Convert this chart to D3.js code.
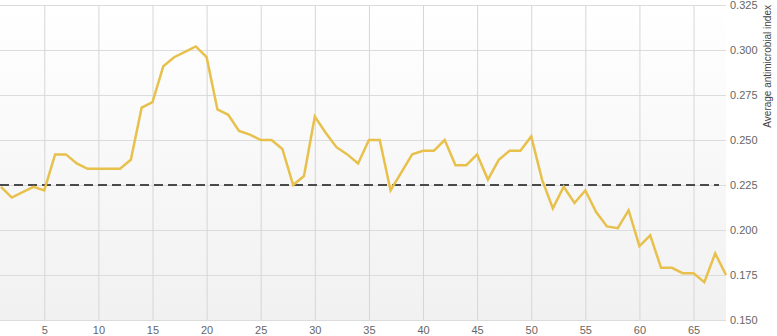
<!DOCTYPE html>
<html>
<head>
<meta charset="utf-8">
<script src="https://cdn.jsdelivr.net/npm/d3@7"></script>
<style>
  html, body { margin: 0; padding: 0; background: #fff; }
  svg { display: block; font-family: "Liberation Sans", Arial, sans-serif; }
</style>
</head>
<body>
<svg id="chart" width="777" height="336"></svg>
<script>
const xValues = d3.range(1, 69);
const indexValues = [
  0.224, 0.218, 0.221, 0.224, 0.222, 0.242, 0.242, 0.237, 0.234, 0.234,
  0.234, 0.234, 0.239, 0.268, 0.271, 0.291, 0.296, 0.299, 0.302, 0.296,
  0.267, 0.264, 0.255, 0.253, 0.250, 0.250, 0.245, 0.225, 0.230, 0.263,
  0.254, 0.246, 0.242, 0.237, 0.250, 0.250, 0.222, 0.232, 0.242, 0.244,
  0.244, 0.250, 0.236, 0.236, 0.242, 0.228, 0.239, 0.244, 0.244, 0.252,
  0.228, 0.212, 0.224, 0.215, 0.222, 0.210, 0.202, 0.201, 0.211, 0.191,
  0.197, 0.179, 0.179, 0.176, 0.176, 0.171, 0.187, 0.175
];
const referenceLevel = [0.225];
const xTicks = [5, 10, 15, 20, 25, 30, 35, 40, 45, 50, 55, 60, 65];
const yTicks = [0.150, 0.175, 0.200, 0.225, 0.250, 0.275, 0.300, 0.325];
const yTitle = "Average antimicrobial index";

const svg = d3.select("#chart");
const pLeft = 0, pRight = 726, pTop = 5, pBottom = 320;

const x = d3.scaleLinear().domain([1, 68]).range([1, pRight]);
const y = d3.scaleLinear().domain([0.150, 0.325]).range([pBottom, pTop]);

// background gradient
const defs = svg.append("defs");
const grad = defs.append("linearGradient").attr("id", "bg")
  .attr("x1", 0).attr("y1", 0).attr("x2", 0).attr("y2", 1);
grad.append("stop").attr("offset", "0%").attr("stop-color", "#ffffff");
grad.append("stop").attr("offset", "100%").attr("stop-color", "#f1f1f1");
svg.append("rect").attr("x", pLeft).attr("y", pTop)
  .attr("width", pRight - pLeft).attr("height", pBottom - pTop)
  .attr("fill", "url(#bg)");

// horizontal gridlines + right labels
const yAxis = d3.axisRight(y).tickValues(yTicks)
  .tickSize(-(pRight - pLeft)).tickPadding(4)
  .tickFormat(d3.format(".3f"));
const gy = svg.append("g").attr("transform", `translate(${pRight},0)`).call(yAxis);
gy.select(".domain").remove();
gy.selectAll(".tick line").attr("stroke", "#dcdcdc").attr("stroke-width", 1);
gy.selectAll(".tick text").attr("fill", "#666").attr("font-size", "11px")
  .attr("font-family", "'Liberation Sans', Arial, sans-serif");

// vertical gridlines + bottom labels
const xAxis = d3.axisBottom(x).tickValues(xTicks)
  .tickSize(-(pBottom - pTop)).tickPadding(6)
  .tickFormat(d3.format("d"));
const gx = svg.append("g").attr("transform", `translate(0,${pBottom})`).call(xAxis);
gx.select(".domain").remove();
gx.selectAll(".tick line").attr("stroke", "#d6d6d6").attr("stroke-width", 1);
gx.selectAll(".tick text").attr("fill", "#666").attr("font-size", "11px")
  .attr("font-family", "'Liberation Sans', Arial, sans-serif");

// reference dashed line
svg.selectAll(".ref").data(referenceLevel).enter().append("line")
  .attr("class", "ref")
  .attr("x1", 0).attr("x2", 719)
  .attr("y1", d => y(d)).attr("y2", d => y(d))
  .attr("stroke", "#4a4a4a").attr("stroke-width", 2)
  .attr("stroke-dasharray", "9,5");

// data line
const line = d3.line().x((d, i) => x(xValues[i])).y(d => y(d));
svg.append("path").datum(indexValues)
  .attr("d", line)
  .attr("fill", "none")
  .attr("stroke", "#e8c04c")
  .attr("stroke-width", 2.5)
  .attr("stroke-linejoin", "miter");

// axis title
svg.append("text")
  .attr("transform", `translate(767,5) rotate(-90)`)
  .attr("text-anchor", "end")
  .attr("dominant-baseline", "central")
  .attr("font-size", "10px")
  .attr("fill", "#444")
  .text(yTitle);
</script>
</body>
</html>
